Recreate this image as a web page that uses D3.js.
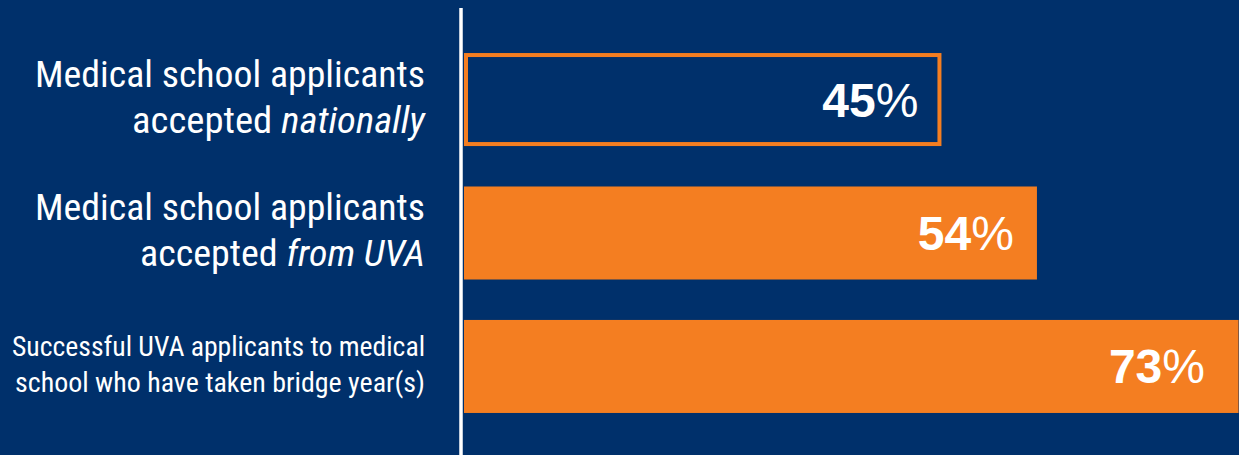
<!DOCTYPE html>
<html><head><meta charset="utf-8">
<script src="https://cdn.jsdelivr.net/npm/d3@7"></script>
<style>
html,body{margin:0;padding:0;background:#00306B;}
svg{display:block;}
</style></head>
<body>
<svg id="chart" width="1239" height="455"></svg>
<script>
// ---- data ----
const categories = ["nationally", "fromUVA", "bridge"];
const categoryLines = [
  ["Medical school applicants", "accepted *nationally*"],
  ["Medical school applicants", "accepted *from UVA*"],
  ["Successful UVA applicants to medical", "school who have taken bridge year(s)"]
];
const values = [45, 54, 73];
const valueLabels = ["45", "54", "73"];

// ---- layout ----
const W = 1239, H = 455;
const navy = "#00306B", orange = "#F47E21";
const labelWidths = [[390, 293], [390, 285], [413, 410]];
const svg = d3.select("#chart");
svg.append("rect").attr("width", W).attr("height", H).attr("fill", navy);

const x = d3.scaleLinear().domain([0, 100]).range([464, 1525]);
const y = d3.scaleBand().domain(categories).range([13, 453]).paddingInner(0.303).paddingOuter(0.3);

// bars
const sw = 4;
categories.forEach((c, i) => {
  const outline = i === 0;
  const bx = x(0), bw = x(values[i]) - x(0);
  const by = y(c), bh = y.bandwidth();
  if (outline) {
    svg.append("rect").attr("x", bx + sw/2).attr("y", by + sw/2)
      .attr("width", bw - sw).attr("height", bh - sw)
      .attr("fill", "none").attr("stroke", orange).attr("stroke-width", sw);
  } else {
    svg.append("rect").attr("x", bx).attr("y", by).attr("width", bw).attr("height", bh).attr("fill", orange);
  }
  const lx = Math.min(x(values[i]), W - 11) - 23;
  const t = svg.append("text").attr("x", lx).attr("y", by + bh/2 + 17)
    .attr("text-anchor", "end").attr("fill", "#fff")
    .style("font-family", "'Liberation Sans', Arial, sans-serif").style("font-size", "48px");
  t.append("tspan").attr("font-weight", "bold").text(valueLabels[i]);
  t.append("tspan").attr("font-weight", "normal").text("%");
});

// axis line
svg.append("line").attr("x1", 461).attr("x2", 461).attr("y1", 8).attr("y2", H)
  .attr("stroke", "#fff").attr("stroke-width", 3.5);

// category labels
categories.forEach((c, i) => {
  const small = i === 2;
  const fs = small ? 27 : 37;
  const b1 = y(c) + (small ? 36 : 34);
  const lh = small ? 36 : 46;
  categoryLines[i].forEach((line, j) => {
    const t = svg.append("text").attr("x", 425).attr("y", b1 + j*lh)
      .attr("text-anchor", "end").attr("fill", "#fff")
      .attr("textLength", labelWidths[i][j]).attr("lengthAdjust", "spacingAndGlyphs")
      .style("font-family", "'Roboto Condensed', Roboto, sans-serif")
      .style("font-weight", 400)
      .style("font-size", fs + "px");
    line.split("*").forEach((seg, k) => {
      if (!seg) return;
      t.append("tspan").attr("font-style", k % 2 ? "italic" : "normal").text(seg);
    });
  });
});
</script>
</body></html>
